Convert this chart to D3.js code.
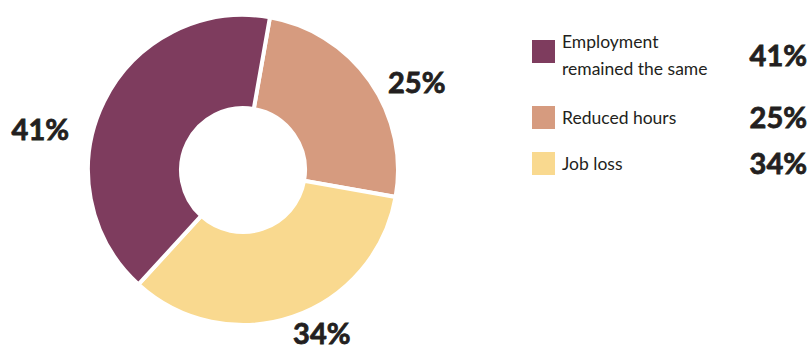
<!DOCTYPE html>
<html>
<head>
<meta charset="utf-8">
<script src="https://cdn.jsdelivr.net/npm/d3@7"></script>
<style>
  html, body { margin: 0; padding: 0; background: #ffffff; }
  svg { display: block; }
  text { font-family: "Lato", "Open Sans", sans-serif; fill: #231f20; }
  text.pct { stroke: #231f20; stroke-width: 0.8; paint-order: stroke; }
</style>
</head>
<body>
<svg id="chart" width="811" height="349"></svg>
<script>
// Employment outcomes, shares in percent (drawn clockwise)
const categories = ["Reduced hours", "Job loss", "Employment remained the same"];
const values = [25, 34, 41];
const colors = ["#d69b7f", "#f9d98f", "#7e3c5e"];

// Legend order and its (possibly two-line) labels
const legendOrder = ["Employment remained the same", "Reduced hours", "Job loss"];
const legendLines = [["Employment", "remained the same"], ["Reduced hours"], ["Job loss"]];

const svg = d3.select("#chart");
const cx = 243, cy = 170, outerR = 155, innerR = 62;

const color = d3.scaleOrdinal().domain(categories).range(colors);

const startDeg = 10;
const pie = d3.pie()
  .sort(null)
  .value(d => d.value)
  .startAngle(startDeg * Math.PI / 180)
  .endAngle((startDeg + 360) * Math.PI / 180);

const data = categories.map((c, i) => ({ name: c, value: values[i] }));
const arcs = pie(data);

const arc = d3.arc().innerRadius(innerR).outerRadius(outerR);

const g = svg.append("g").attr("transform", `translate(${cx},${cy})`);

g.selectAll("path.slice")
  .data(arcs)
  .join("path")
  .attr("class", "slice")
  .attr("d", arc)
  .attr("fill", d => color(d.data.name))
  .attr("stroke", "#ffffff")
  .attr("stroke-width", 4)
  .attr("stroke-linejoin", "miter");

// Outside percentage labels: angle nudge (deg) and distance from centre
const labelPlace = {
  "Reduced hours": { dAng: 8, r: 195 },
  "Job loss": { dAng: -7, r: 181 },
  "Employment remained the same": { dAng: -14.5, r: 207 }
};

function labelPos(d) {
  const p = labelPlace[d.data.name];
  const a = (d.startAngle + d.endAngle) / 2 + p.dAng * Math.PI / 180;
  return [p.r * Math.sin(a), -p.r * Math.cos(a)];
}

g.selectAll("text.plabel")
  .data(arcs)
  .join("text")
  .attr("class", "plabel pct")
  .attr("text-anchor", "middle")
  .attr("dominant-baseline", "central")
  .attr("font-weight", 700)
  .attr("font-size", 29)
  .attr("x", d => labelPos(d)[0])
  .attr("y", d => labelPos(d)[1])
  .text(d => d.data.value + "%");

// Legend: rows stacked by their number of text lines
const rowGap = 46, extraLine = 20, firstRowY = 51.5;
const rowY = [];
legendLines.reduce((y, lines, i) => {
  rowY.push(y);
  return y + rowGap + (lines.length - 1) * extraLine;
}, firstRowY);

const rows = svg.append("g").selectAll("g.row")
  .data(legendOrder)
  .join("g")
  .attr("class", "row")
  .attr("transform", (d, i) => `translate(0,${rowY[i]})`);

rows.append("rect")
  .attr("x", 532).attr("y", -11.5)
  .attr("width", 23).attr("height", 23)
  .attr("fill", d => color(d));

rows.each(function(d, i) {
  const lines = legendLines[i];
  const t = d3.select(this).append("text")
    .attr("x", 562)
    .attr("font-size", 17.5);
  const first = lines.length > 1 ? -3.5 : 6;
  lines.forEach((ln, k) => {
    t.append("tspan").attr("x", 562).attr("y", first + k * 27).text(ln);
  });
});

rows.append("text")
  .attr("class", "pct")
  .attr("x", 807)
  .attr("y", (d, i) => i === 0 ? 14.5 : 10)
  .attr("text-anchor", "end")
  .attr("font-weight", 700)
  .attr("font-size", 29)
  .text(d => values[categories.indexOf(d)] + "%");
</script>
</body>
</html>
